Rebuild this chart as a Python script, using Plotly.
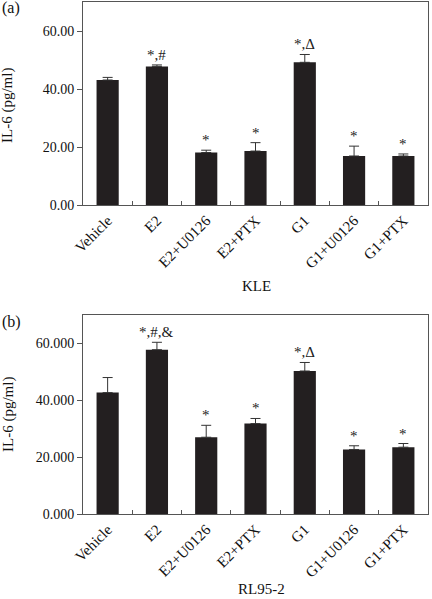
import plotly.graph_objects as go

categories = ["Vehicle", "E2", "E2+U0126", "E2+PTX", "G1", "G1+U0126", "G1+PTX"]

kle_values = [43.1, 47.8, 18.1, 18.6, 49.2, 16.9, 16.9]
kle_errors = [0.9, 0.5, 0.8, 2.9, 2.7, 3.4, 0.7]
kle_marks = ["", "*,#", "*", "*", "*,Δ", "*", "*"]

rl_values = [42.7, 57.8, 27.0, 31.8, 50.3, 22.7, 23.5]
rl_errors = [5.3, 2.6, 4.2, 1.8, 3.0, 1.3, 1.3]
rl_marks = ["", "*,#,&", "*", "*", "*,Δ", "*", "*"]

y_ticks = [0, 20, 40, 60]

W, H = 432, 599
FONT = "Liberation Serif, Times New Roman, serif"
BAR = "#231f20"
AX = "#555555"

def py(p):
    return 1 - p / H

def px(p):
    return p / W

fig = go.Figure()

for vals, errs, xa, ya in [(kle_values, kle_errors, "x", "y"), (rl_values, rl_errors, "x2", "y2")]:
    fig.add_trace(go.Bar(
        x=categories, y=vals, xaxis=xa, yaxis=ya,
        marker=dict(color=BAR, line=dict(width=0)),
        width=0.45,
        error_y=dict(type="data", array=errs, arrayminus=[0] * len(errs), symmetric=False,
                     color="#333333", thickness=1, width=5),
        showlegend=False,
    ))

xdom = [px(83), px(428)]
common_x = dict(domain=xdom, showline=True, linecolor=AX, linewidth=1, mirror=True,
                ticks="inside", tickson="boundaries", ticklen=4, tickcolor=AX,
                tickangle=-45, tickfont=dict(family=FONT, size=15, color="#111"),
                showgrid=False, automargin=False)
common_y = dict(range=[0, 70], tickvals=y_ticks, showline=True, linecolor=AX, linewidth=1,
                mirror=True, ticks="outside", ticklen=5, tickcolor=AX,
                tickfont=dict(family=FONT, size=14, color="#111"),
                showgrid=False, zeroline=False, automargin=False)

fig.update_layout(
    width=W, height=H,
    margin=dict(l=0, r=0, t=0, b=0),
    paper_bgcolor="white", plot_bgcolor="white",
    xaxis=dict(**common_x, anchor="y"),
    yaxis=dict(**common_y, domain=[py(205), py(2)], tickformat=".2f", anchor="x"),
    xaxis2=dict(**common_x, anchor="y2"),
    yaxis2=dict(**common_y, domain=[py(514), py(315)], tickformat=".3f", anchor="x2"),
)

anns = []
for vals, errs, marks, xa, ya in [(kle_values, kle_errors, kle_marks, "x", "y"),
                                   (rl_values, rl_errors, rl_marks, "x2", "y2")]:
    for c, v, e, m in zip(categories, vals, errs, marks):
        if m:
            anns.append(dict(x=c, y=v + e, xref=xa, yref=ya, text=m, showarrow=False,
                             yanchor="bottom", yshift=0,
                             font=dict(family=FONT, size=15, color="#222")))

def txt(x, y, t, size, angle=0, xanchor="center", yanchor="middle"):
    anns.append(dict(x=px(x), y=py(y), xref="paper", yref="paper", text=t, showarrow=False,
                     textangle=angle, xanchor=xanchor, yanchor=yanchor,
                     font=dict(family=FONT, size=size, color="#111")))

txt(0, 8, "(a)", 16, xanchor="left")
txt(0, 322, "(b)", 16, xanchor="left")
txt(8, 106, "IL-6 (pg/ml)", 15, angle=-90)
txt(8, 415, "IL-6 (pg/ml)", 15, angle=-90)
txt(256, 286, "KLE", 15)
txt(261, 589, "RL95-2", 15)

fig.update_layout(annotations=anns)

fig.write_html("out.html", config={"displayModeBar": False},
               post_script="document.body.style.margin='0';document.body.style.overflow='hidden';")
